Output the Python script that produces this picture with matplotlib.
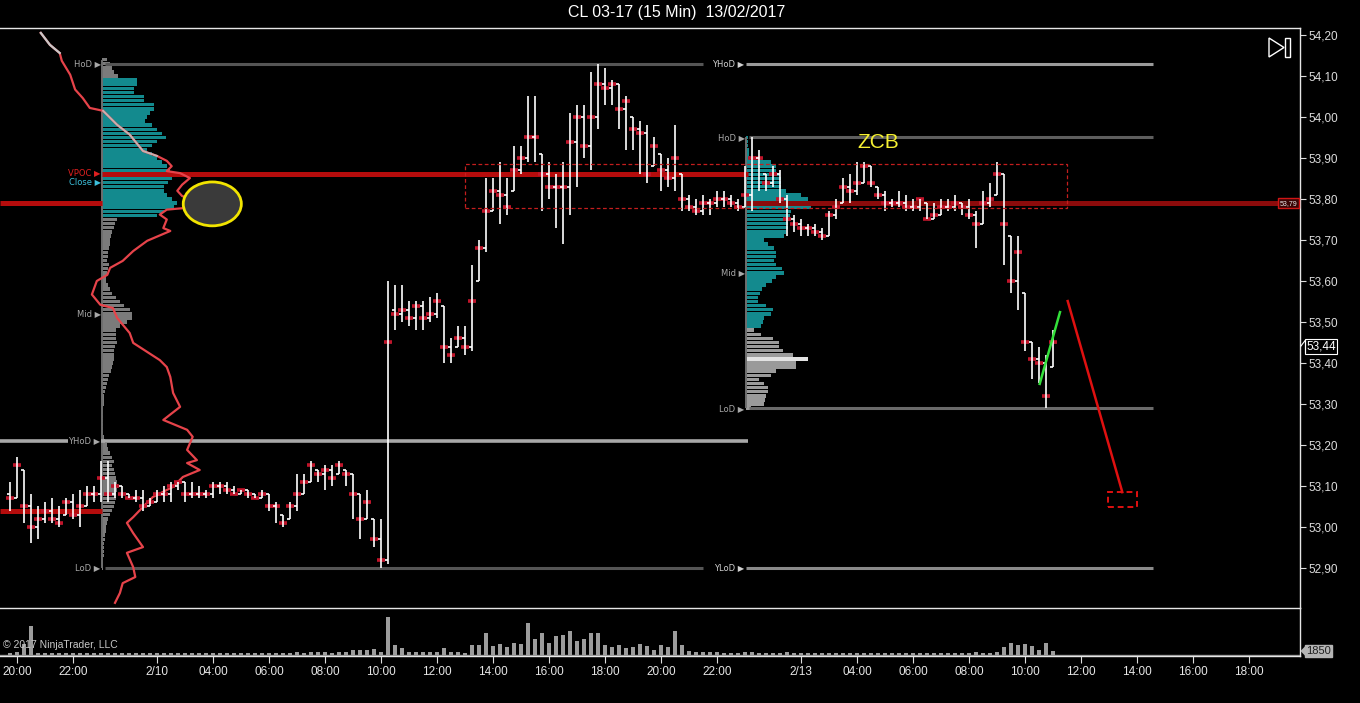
import numpy as np
import matplotlib
matplotlib.use("Agg")
import matplotlib.pyplot as plt
from matplotlib.patches import Ellipse, Rectangle, Polygon
from matplotlib.transforms import blended_transform_factory
from matplotlib.ticker import FixedLocator, FuncFormatter

plt.rcParams['font.family'] = ['Liberation Sans', 'DejaVu Sans']

# ---------------- data ----------------
title = "CL 03-17 (15 Min)  13/02/2017"
first_slot = -1   # bar index of first visible bar (20:00 label = slot 0)

bar_open = [
    53.08, 53.07, 53.14, 53.05, 53.00, 53.02, 53.04, 53.02, 53.03, 53.06,
    53.03, 53.05, 53.08, 53.08, 53.12, 53.08, 53.10, 53.08, 53.07, 53.07,
    53.05, 53.06, 53.08, 53.08, 53.10, 53.11, 53.08, 53.08, 53.08, 53.08,
    53.10, 53.10, 53.09, 53.08, 53.09, 53.08, 53.07, 53.08, 53.05, 53.03,
    53.02, 53.05, 53.08, 53.11, 53.14, 53.13, 53.14, 53.13, 53.14, 53.13,
    53.08, 53.02, 53.02, 52.97, 52.92, 53.53, 53.52, 53.53, 53.51, 53.54,
    53.51, 53.52, 53.54, 53.44, 53.44, 53.46, 53.44, 53.60, 53.68, 53.77,
    53.82, 53.81, 53.82, 53.87, 53.90, 53.95, 53.91, 53.86, 53.83, 53.83,
    53.83, 53.94, 54.00, 53.93, 54.00, 54.08, 54.07, 54.08, 54.02, 54.00,
    53.97, 53.96, 53.88, 53.91, 53.87, 53.85, 53.86, 53.80, 53.78, 53.77,
    53.79, 53.79, 53.80, 53.80, 53.79, 53.78, 53.81, 53.90, 53.86, 53.84,
    53.86, 53.80, 53.75, 53.74, 53.73, 53.73, 53.72, 53.71, 53.76, 53.79,
    53.83, 53.82, 53.84, 53.88, 53.83, 53.81, 53.79, 53.79, 53.79, 53.78,
    53.78, 53.79, 53.75, 53.76, 53.78, 53.78, 53.79, 53.78, 53.76, 53.74,
    53.79, 53.81, 53.86, 53.71, 53.60, 53.57, 53.45, 53.41, 53.40, 53.39]
bar_high = [
    53.11, 53.17, 53.14, 53.08, 53.05, 53.06, 53.07, 53.05, 53.07, 53.08,
    53.09, 53.10, 53.10, 53.16, 53.16, 53.11, 53.10, 53.08, 53.09, 53.09,
    53.07, 53.09, 53.10, 53.11, 53.11, 53.11, 53.11, 53.10, 53.09, 53.11,
    53.11, 53.11, 53.10, 53.09, 53.09, 53.08, 53.09, 53.08, 53.06, 53.03,
    53.06, 53.13, 53.13, 53.16, 53.14, 53.15, 53.15, 53.16, 53.14, 53.13,
    53.08, 53.09, 53.02, 53.02, 53.60, 53.59, 53.59, 53.55, 53.55, 53.55,
    53.56, 53.57, 53.54, 53.46, 53.49, 53.49, 53.64, 53.70, 53.85, 53.85,
    53.89, 53.85, 53.93, 53.93, 54.05, 54.05, 53.91, 53.89, 53.86, 53.89,
    54.01, 54.03, 54.03, 54.11, 54.13, 54.12, 54.09, 54.08, 54.05, 54.00,
    53.99, 53.98, 53.95, 53.91, 53.90, 53.98, 53.86, 53.81, 53.80, 53.81,
    53.80, 53.82, 53.82, 53.81, 53.80, 53.88, 53.95, 53.92, 53.86, 53.88,
    53.87, 53.81, 53.76, 53.75, 53.74, 53.74, 53.73, 53.77, 53.80, 53.85,
    53.86, 53.89, 53.89, 53.88, 53.83, 53.82, 53.80, 53.82, 53.81, 53.80,
    53.80, 53.79, 53.79, 53.80, 53.80, 53.81, 53.79, 53.80, 53.77, 53.82,
    53.84, 53.89, 53.86, 53.71, 53.71, 53.57, 53.45, 53.44, 53.42, 53.48]
bar_low = [
    53.04, 53.07, 53.01, 52.96, 52.97, 53.01, 53.01, 53.00, 53.03, 53.02,
    53.00, 53.05, 53.06, 53.06, 53.06, 53.07, 53.07, 53.07, 53.06, 53.04,
    53.05, 53.06, 53.06, 53.06, 53.09, 53.06, 53.07, 53.07, 53.07, 53.07,
    53.08, 53.08, 53.08, 53.08, 53.07, 53.07, 53.07, 53.04, 53.01, 53.00,
    53.02, 53.04, 53.08, 53.11, 53.11, 53.09, 53.10, 53.13, 53.10, 53.02,
    52.97, 53.02, 52.95, 52.90, 52.91, 53.48, 53.50, 53.49, 53.48, 53.48,
    53.50, 53.51, 53.40, 53.40, 53.44, 53.42, 53.43, 53.60, 53.67, 53.77,
    53.74, 53.76, 53.82, 53.86, 53.89, 53.89, 53.77, 53.80, 53.73, 53.69,
    53.76, 53.83, 53.90, 53.87, 53.97, 54.03, 54.03, 53.97, 53.92, 53.92,
    53.86, 53.84, 53.88, 53.82, 53.83, 53.82, 53.77, 53.77, 53.76, 53.76,
    53.76, 53.78, 53.78, 53.78, 53.77, 53.78, 53.77, 53.82, 53.82, 53.83,
    53.79, 53.71, 53.72, 53.71, 53.71, 53.71, 53.70, 53.71, 53.75, 53.79,
    53.79, 53.81, 53.84, 53.83, 53.80, 53.77, 53.78, 53.78, 53.77, 53.77,
    53.77, 53.75, 53.75, 53.76, 53.77, 53.77, 53.76, 53.75, 53.68, 53.74,
    53.78, 53.81, 53.64, 53.57, 53.53, 53.43, 53.36, 53.35, 53.29, 53.39]
bar_close = [
    53.07, 53.15, 53.05, 53.00, 53.02, 53.04, 53.02, 53.01, 53.06, 53.03,
    53.05, 53.08, 53.08, 53.12, 53.08, 53.10, 53.08, 53.07, 53.07, 53.05,
    53.06, 53.08, 53.08, 53.10, 53.11, 53.08, 53.08, 53.08, 53.08, 53.10,
    53.10, 53.09, 53.08, 53.09, 53.08, 53.07, 53.08, 53.05, 53.05, 53.01,
    53.05, 53.08, 53.11, 53.15, 53.13, 53.14, 53.12, 53.15, 53.13, 53.08,
    53.02, 53.06, 52.97, 52.92, 53.45, 53.52, 53.53, 53.51, 53.54, 53.51,
    53.52, 53.55, 53.44, 53.42, 53.46, 53.44, 53.55, 53.68, 53.77, 53.82,
    53.81, 53.78, 53.87, 53.90, 53.95, 53.95, 53.86, 53.83, 53.83, 53.83,
    53.94, 54.00, 53.93, 54.00, 54.08, 54.07, 54.08, 54.02, 54.04, 53.97,
    53.96, 53.86, 53.93, 53.87, 53.85, 53.90, 53.80, 53.78, 53.77, 53.79,
    53.79, 53.80, 53.80, 53.79, 53.78, 53.81, 53.90, 53.90, 53.84, 53.86,
    53.80, 53.75, 53.74, 53.73, 53.73, 53.72, 53.71, 53.76, 53.78, 53.83,
    53.82, 53.84, 53.88, 53.84, 53.81, 53.79, 53.79, 53.79, 53.78, 53.78,
    53.80, 53.75, 53.76, 53.78, 53.78, 53.79, 53.78, 53.76, 53.74, 53.79,
    53.80, 53.86, 53.74, 53.60, 53.67, 53.45, 53.41, 53.40, 53.32, 53.45]
bar_volume = [
    1000, 1500, 5500, 14000, 1000, 1000, 800, 1000, 800, 800,
    1000, 800, 800, 1000, 800, 800, 800, 1000, 700, 700,
    700, 1000, 700, 700, 700, 700, 700, 800, 700, 700,
    700, 700, 800, 700, 700, 700, 800, 700, 900, 900,
    1000, 1200, 1000, 1500, 1200, 1500, 1000, 1500, 1500, 2500,
    2500, 2500, 3000, 1500, 18500, 5000, 3500, 1500, 1500, 1300,
    1500, 1300, 3500, 1500, 1200, 1000, 5000, 5000, 10500, 4500,
    5500, 4000, 6000, 5500, 15500, 8000, 10500, 6000, 9000, 9500,
    11500, 7000, 8000, 10500, 10500, 5000, 4000, 5000, 3500, 4000,
    5500, 4500, 2500, 5000, 4000, 11500, 5000, 2000, 1200, 1200,
    1200, 1500, 700, 700, 700, 1500, 1200, 700, 700, 700,
    700, 1200, 700, 700, 900, 700, 900, 700, 700, 900,
    700, 700, 1000, 700, 700, 700, 700, 700, 700, 700,
    700, 700, 700, 700, 700, 700, 700, 700, 1500, 1000,
    700, 1500, 4000, 6000, 5000, 5500, 4500, 2500, 6000, 1850]

last_price = 53.44
last_volume = 1850

tick_slots = [0, 8, 20, 28, 36, 44, 52, 60, 68, 76, 84, 92, 100,
              112, 120, 128, 136, 144, 152, 160, 168, 176]
tick_labels = ['20:00', '22:00', '2/10', '04:00', '06:00', '08:00', '10:00',
               '12:00', '14:00', '16:00', '18:00', '20:00', '22:00', '2/13',
               '04:00', '06:00', '08:00', '10:00', '12:00', '14:00', '16:00', '18:00']
price_ticks = [52.90, 53.00, 53.10, 53.20, 53.30, 53.40, 53.50, 53.60,
               53.70, 53.80, 53.90, 54.00, 54.10, 54.20]

# session volume profiles (volume per 0.01 price level, hundreds of contracts)
fri_profile_top = 54.14
fri_profile_vol = [
    5, 8, 10, 12, 16,
    35, 35, 32, 32, 42, 42, 52, 52, 48, 45,
    43, 50, 55, 60, 64, 55, 50, 45, 50, 55,
    60, 65, 68, 75, 70, 66, 62, 62, 65, 70,
    75, 72, 62, 55,
    15, 13, 12, 10, 9, 8,
    8, 7, 6, 6, 5, 7, 6, 5, 4, 4,
    6, 8, 10, 14, 18, 22, 28, 30, 30, 25,
    18, 14, 14, 14, 15, 13, 12, 12, 12, 11,
    10, 9, 7, 6, 5, 4, 3, 2, 2, 2,
    1, 1, 1, 1, 1, 1, 1, 2, 3, 5,
    6, 8, 10, 12, 10, 12, 13, 14, 15, 16,
    15, 14, 14, 13, 12, 10, 8, 6, 5, 4,
    4, 3, 3, 2, 2, 2, 2, 1, 1, 1]
fri_value_area = (53.76, 54.09)

mon_profile_top = 53.95
mon_profile_vol = [
    2, 2, 2, 3, 3, 4,
    25, 30, 30, 34, 35, 35, 35, 40, 55, 62,
    67, 65, 45, 44, 43, 42, 42, 40, 38, 18,
    22, 28, 30, 30, 28, 30, 36, 38, 30, 26,
    20, 16, 14, 12, 12, 20, 27, 25, 18, 17,
    15, 8, 15, 27, 33, 33, 37, 47, 62, 50,
    50, 30, 25, 13, 18, 22, 22, 20, 19, 18,
    5]
mon_value_area = (53.49, 53.95)
mon_highlight = 53.41

# levels
fri_hod, fri_lod, fri_mid = 54.13, 52.90, 53.52
fri_vpoc, fri_close = 53.86, 53.85
thu_hod, thu_vpoc = 53.21, 53.04
mon_hod, mon_lod, mon_mid, mon_vpoc = 53.95, 53.29, 53.62, 53.79
fri_start, mon_start = 12, 104

# cumulative profile line (slot offset, price)
line_slot = [3.4, 4.7, 6.1, 6.4, 7.6, 8.3, 9.4, 10.4, 12.3, 14.3, 16.1, 18.0,
             20.0, 21.4, 22.1, 21.4, 23.3, 24.7, 23.6, 22.9, 23.6, 26.1, 24.0,
             21.4, 20.4, 21.4, 20.9, 21.9, 18.6, 16.6, 15.1, 13.3, 12.9, 11.4,
             10.7, 11.9, 13.7, 14.3, 16.1, 16.6, 20.4, 21.4, 21.9, 22.3, 23.3,
             20.9, 24.3, 25.1, 24.3, 25.7, 24.3, 26.1, 23.7, 22.3, 19.4, 18.0,
             16.6, 15.7, 16.6, 18.0, 15.7, 16.6, 16.9, 15.1, 14.7, 14.0]
line_price = [54.205, 54.176, 54.156, 54.137, 54.103, 54.067, 54.046, 54.022,
              54.015, 53.981, 53.957, 53.917, 53.905, 53.893, 53.880, 53.868,
              53.863, 53.851, 53.835, 53.820, 53.807, 53.795, 53.778, 53.774,
              53.762, 53.750, 53.729, 53.722, 53.698, 53.673, 53.649, 53.632,
              53.615, 53.600, 53.567, 53.542, 53.534, 53.510, 53.473, 53.449,
              53.407, 53.390, 53.366, 53.327, 53.293, 53.261, 53.237, 53.220,
              53.188, 53.163, 53.156, 53.139, 53.122, 53.098, 53.073, 53.049,
              53.024, 53.010, 52.985, 52.951, 52.937, 52.902, 52.878, 52.863,
              52.839, 52.815]

# drawings
zone_slots, zone_prices = (64.0, 150.0), (53.778, 53.885)
arrow_slots, arrow_prices = (150.1, 157.9), (53.551, 53.085)
target_slots, target_prices = (155.9, 160.0), (53.049, 53.085)
green_slots, green_prices = (146.1, 149.0), (53.349, 53.524)
circle_center, circle_size = (27.9, 53.788), (8.3, 0.107)
zcb_pos = (123.0, 53.937)

# ---------------- figure ----------------
W, H = 1360, 703
fig = plt.figure(figsize=(W / 100, H / 100), dpi=100, facecolor='black')
fx = lambda px: px / W
fy = lambda py: 1 - py / H

axv = fig.add_axes([0, fy(656), fx(1300), fy(608) - fy(656)], facecolor='black')
ax = fig.add_axes([0, fy(608), fx(1300), fy(28) - fy(608)], facecolor='black')

xlim = (-17 / 7, (1300 - 17) / 7)
ax.set_xlim(*xlim)
axv.set_xlim(*xlim)
ax.set_ylim(52.8024, 54.217)

idx = np.arange(len(bar_high)) + first_slot

# ---- profiles ----
def draw_profile(top, vols, start, va, base_color, va_color, hi_color=None, hi_level=None):
    levels = np.round(top - 0.01 * np.arange(len(vols)), 2)
    widths = np.array(vols) / 7.0
    cols = []
    for lv in levels:
        if hi_level is not None and abs(lv - hi_level) < 1e-6:
            cols.append(hi_color)
        elif va[0] - 1e-6 <= lv <= va[1] + 1e-6:
            cols.append(va_color)
        else:
            cols.append(base_color)
    ax.barh(levels, widths, left=start, height=0.0085, color=cols,
            linewidth=0, zorder=1)
    ax.vlines(start, levels.min(), levels.max(), color='#6e6e6e', lw=1.4, zorder=1.5)

draw_profile(fri_profile_top, fri_profile_vol, fri_start + 0.15, fri_value_area,
             '#7b7b7b', '#138a8e')
draw_profile(mon_profile_top, mon_profile_vol, mon_start + 0.2, mon_value_area,
             '#9a9a9a', '#138a8e', '#e2e2e2', mon_highlight)

# ---- level lines ----
lvl_lw = 2.2
ax.hlines(fri_hod, fri_start + 0.5, 98.0, color='#555555', lw=lvl_lw, zorder=2)
ax.hlines(fri_hod, mon_start + 0.1, 162.3, color='#9a9a9a', lw=lvl_lw, zorder=2)
ax.hlines(fri_lod, fri_start + 0.5, 98.0, color='#555555', lw=lvl_lw, zorder=2)
ax.hlines(fri_lod, mon_start + 0.1, 162.3, color='#8a8a8a', lw=lvl_lw, zorder=2)
ax.hlines(thu_hod, xlim[0], mon_start + 0.4, color='#a8a8a8', lw=2.6, zorder=2)
ax.hlines(mon_hod, mon_start + 0.6, 162.3, color='#5e5e5e', lw=lvl_lw, zorder=2)
ax.hlines(mon_lod, mon_start + 0.6, 162.3, color='#6a6a6a', lw=lvl_lw, zorder=2)

ax.hlines(fri_vpoc, fri_start + 0.15, mon_start + 0.4, color='#b50c0c', lw=3.6, zorder=2.2)
ax.hlines(thu_vpoc, xlim[0], fri_start + 0.15, color='#b50c0c', lw=3.6, zorder=2.2)
ax.hlines(mon_vpoc, xlim[0], fri_start + 0.15, color='#b50c0c', lw=3.6, zorder=2.2)
ax.hlines(mon_vpoc, mon_start + 0.2, xlim[1], color='#8c0b0b', lw=3.6, zorder=2.2)

def lvl_label(x, y, s, color='#a8a8a8'):
    ax.text(x, y, s, ha='right', va='center', fontsize=6, color=color, zorder=6,
            family=['DejaVu Sans'],
            bbox=dict(boxstyle='square,pad=0.05', fc='black', ec='none'))

lvl_label(fri_start - 0.05, fri_hod, 'HoD \u25B6')
lvl_label(fri_start - 0.05, fri_vpoc + 0.004, 'VPOC \u25B6', '#e02020')
lvl_label(fri_start - 0.05, fri_close - 0.008, 'Close \u25B6', '#3cc0dc')
lvl_label(fri_start - 0.05, fri_mid, 'Mid \u25B6')
lvl_label(fri_start - 0.05, thu_hod, 'YHoD \u25B6')
lvl_label(fri_start - 0.05, fri_lod, 'LoD \u25B6')
lvl_label(mon_start - 0.05, fri_hod, 'YHoD \u25B6', '#d0d0d0')
lvl_label(mon_start - 0.05, fri_lod, 'YLoD \u25B6', '#d0d0d0')
lvl_label(mon_start - 0.05, mon_hod, 'HoD \u25B6')
lvl_label(mon_start - 0.05, mon_mid, 'Mid \u25B6')
lvl_label(mon_start - 0.05, mon_lod, 'LoD \u25B6')

# ---- profile line ----
ax.plot(line_slot, line_price, color='#e6434a', lw=1.6, zorder=3.5)
ax.plot(line_slot[:3], line_price[:3], color='#c8c8c8', lw=1.6, zorder=3.6)
ax.plot(line_slot[8:13], line_price[8:13], color='#c9b0b0', lw=1.4, zorder=3.6)

# ---- OHLC bars ----
tick = 0.42
ax.plot(idx, bar_close, ls='none', marker='_', ms=6, mew=2.6, color='#c0142a', zorder=3.9)
ax.vlines(idx, bar_low, bar_high, color='white', lw=1.2, zorder=4)
ax.hlines(bar_open, idx - tick, idx, color='white', lw=1.2, zorder=4)
ax.hlines(bar_close, idx, idx + tick, color='white', lw=1.0, zorder=3.8)

# ---- drawings ----
ax.add_patch(Rectangle((zone_slots[0], zone_prices[0]), zone_slots[1] - zone_slots[0],
                       zone_prices[1] - zone_prices[0], fill=False, ec='#c41e1e',
                       ls=(0, (3, 2)), lw=0.9, zorder=5))
ax.add_patch(Ellipse(circle_center, circle_size[0], circle_size[1], fc='#3a3a3a',
                     ec='#f2e400', lw=2, zorder=5))
ax.text(zcb_pos[0], zcb_pos[1], 'ZCB', color='#f5f032', fontsize=15, ha='center',
        va='center', zorder=6)
ax.plot(arrow_slots, arrow_prices, color='#e01010', lw=1.8, zorder=5)
ax.add_patch(Rectangle((target_slots[0], target_prices[0]), target_slots[1] - target_slots[0],
                       target_prices[1] - target_prices[0], fill=False, ec='#e01010',
                       ls=(0, (3, 2)), lw=1.4, zorder=5))
ax.plot(green_slots, green_prices, color='#33e03a', lw=1.8, zorder=5)

# ---- axes styling ----
fmt = FuncFormatter(lambda v, p: f"{v:.2f}".replace('.', ','))
ax.yaxis.set_major_locator(FixedLocator(price_ticks))
ax.yaxis.set_major_formatter(fmt)
ax.yaxis.tick_right()
ax.tick_params(axis='y', colors='#dcdcdc', labelcolor='#dcdcdc', length=4, width=0.8,
               labelsize=8.5, pad=2, direction='out')
ax.tick_params(axis='x', bottom=False, labelbottom=False)
ax.spines['left'].set_visible(False)
for s in ['top', 'right', 'bottom']:
    ax.spines[s].set_color('#e6e6e6')
    ax.spines[s].set_linewidth(1.0)

bt = blended_transform_factory(ax.transAxes, ax.transData)
ax.text(1297 / 1300, mon_vpoc, '53,79', transform=bt, ha='right', va='center',
        fontsize=5, color='#e8e8e8', zorder=7,
        bbox=dict(boxstyle='square,pad=0.25', fc='#3a0505', ec='#d01515', lw=1))
ax.text(1306 / 1300, last_price, f"{last_price:.2f}".replace('.', ','), transform=bt,
        ha='left', va='center', fontsize=8.5, color='white', zorder=7, clip_on=False,
        bbox=dict(boxstyle='square,pad=0.12', fc='black', ec='white', lw=0.8))
ax.add_patch(Polygon([(1300.5 / 1300, last_price), (1305.5 / 1300, last_price + 0.016),
                      (1305.5 / 1300, last_price - 0.016)], closed=False, fill=False,
                     ec='white', lw=0.8, transform=bt, clip_on=False, zorder=7))

# volume panel
axv.bar(idx, bar_volume, width=0.45, color='#9c9c9c', zorder=2)
axv.set_ylim(-600, 23000)
axv.axhline(0, color='#8a8a8a', lw=1, zorder=1)
axv.set_xticks(tick_slots)
axv.set_xticklabels(tick_labels)
axv.tick_params(axis='x', colors='#dcdcdc', labelcolor='#e6e6e6', length=5, width=0.8,
                labelsize=8.5, pad=2)
axv.tick_params(axis='y', left=False, labelleft=False, right=False)
axv.spines['left'].set_visible(False)
axv.spines['top'].set_visible(False)
for s in ['right', 'bottom']:
    axv.spines[s].set_color('#e6e6e6')
    axv.spines[s].set_linewidth(1.0)
vt = blended_transform_factory(axv.transAxes, axv.transData)
axv.text(1306 / 1300, last_volume, str(last_volume), transform=vt, ha='left', va='center',
         fontsize=8, color='#202020', clip_on=False, zorder=7,
         bbox=dict(boxstyle='square,pad=0.12', fc='#b4b4b4', ec='#b4b4b4'))
axv.add_patch(Polygon([(1300.5 / 1300, last_volume), (1306 / 1300, last_volume + 2800),
                       (1306 / 1300, last_volume - 2800)], closed=True, fc='#b4b4b4',
                      ec='none', transform=vt, clip_on=False, zorder=7))
axv.text(0.002, 0.12, '\u00a9 2017 NinjaTrader, LLC', transform=axv.transAxes,
         fontsize=7.5, color='#c8c8c8', ha='left', va='bottom', zorder=6)

# title and play icon
fig.text(fx(677), fy(13), title, color='white', fontsize=11.5, ha='center', va='center')
fig.add_artist(Polygon([(fx(1269), fy(38)), (fx(1269), fy(57)), (fx(1284), fy(47.5))],
                       closed=True, fill=False, ec='white', lw=1, transform=fig.transFigure))
fig.add_artist(Rectangle((fx(1285), fy(57)), fx(5), fy(38) - fy(57), fill=False,
                         ec='white', lw=1, transform=fig.transFigure))

fig.savefig('out.png', dpi=100, facecolor='black')
